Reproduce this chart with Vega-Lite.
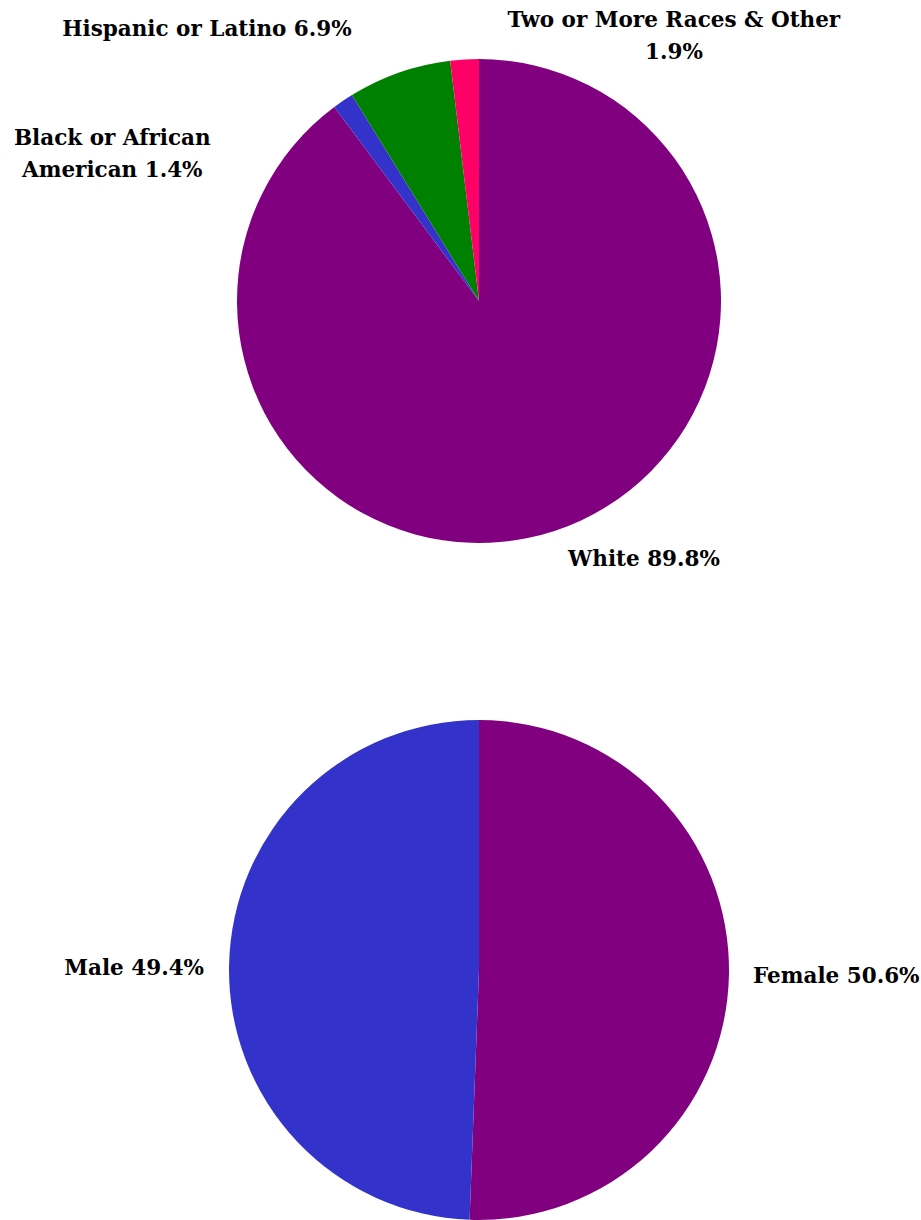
{
  "$schema": "https://vega.github.io/schema/vega-lite/v6.json",
  "padding": {"left": 13, "top": 0, "right": 0, "bottom": 0},
  "bounds": "flush",
  "background": "white",
  "spacing": 118,
  "config": {
    "view": {"stroke": null},
    "text": {"font": "DejaVu Serif", "fontWeight": "bold", "fontSize": 21.5, "color": "#000000"}
  },
  "vconcat": [
    {
      "width": 886,
      "height": 602,
      "data": {"values": [
        {"group": "White", "label": "White 89.8%", "pct": 89.8, "idx": 1},
        {"group": "Black or African American", "label": "Black or African\nAmerican 1.4%", "pct": 1.4, "idx": 2},
        {"group": "Hispanic or Latino", "label": "Hispanic or Latino 6.9%", "pct": 6.9, "idx": 3},
        {"group": "Two or More Races & Other", "label": "Two or More Races & Other\n1.9%", "pct": 1.9, "idx": 4}
      ]},
      "encoding": {
        "theta": {"field": "pct", "type": "quantitative", "stack": true},
        "order": {"field": "idx", "type": "quantitative"}
      },
      "layer": [
        {
          "mark": {"type": "arc", "outerRadius": 242},
          "encoding": {
            "color": {"field": "group", "type": "nominal", "legend": null,
              "scale": {"domain": ["White", "Black or African American", "Hispanic or Latino", "Two or More Races & Other"],
                        "range": ["#800080", "#3333CC", "#008000", "#FF0066"]}}
          }
        },
        {
          "mark": {"type": "text", "radius": 270, "dx": 80, "dy": 3, "lineBreak": "\n", "lineHeight": 32},
          "encoding": {"text": {"condition": {"test": "datum.group === 'White'", "field": "label"}, "value": ""}}
        },
        {
          "mark": {"type": "text", "radius": 270, "dx": -215, "dy": 61, "lineBreak": "\n", "lineHeight": 32},
          "encoding": {"text": {"condition": {"test": "datum.group === 'Black or African American'", "field": "label"}, "value": ""}}
        },
        {
          "mark": {"type": "text", "radius": 270, "dx": -183, "dy": -16, "lineBreak": "\n", "lineHeight": 32},
          "encoding": {"text": {"condition": {"test": "datum.group === 'Hispanic or Latino'", "field": "label"}, "value": ""}}
        },
        {
          "mark": {"type": "text", "radius": 270, "dx": 211, "dy": -10, "lineBreak": "\n", "lineHeight": 32},
          "encoding": {"text": {"condition": {"test": "datum.group === 'Two or More Races & Other'", "field": "label"}, "value": ""}}
        }
      ]
    },
    {
      "width": 886,
      "height": 500,
      "data": {"values": [
        {"group": "Female", "label": "Female 50.6%", "pct": 50.6, "idx": 1},
        {"group": "Male", "label": "Male 49.4%", "pct": 49.4, "idx": 2}
      ]},
      "encoding": {
        "theta": {"field": "pct", "type": "quantitative", "stack": true},
        "order": {"field": "idx", "type": "quantitative"}
      },
      "layer": [
        {
          "mark": {"type": "arc", "outerRadius": 250},
          "encoding": {
            "color": {"field": "group", "type": "nominal", "legend": null,
              "scale": {"domain": ["Female", "Male"], "range": ["#800080", "#3333CC"]}}
          }
        },
        {
          "mark": {"type": "text", "radius": 270, "align": "left", "dx": 4, "dy": 2},
          "encoding": {"text": {"condition": {"test": "datum.group === 'Female'", "field": "label"}, "value": ""}}
        },
        {
          "mark": {"type": "text", "radius": 270, "align": "right", "dx": -5, "dy": 4},
          "encoding": {"text": {"condition": {"test": "datum.group === 'Male'", "field": "label"}, "value": ""}}
        }
      ]
    }
  ]
}
